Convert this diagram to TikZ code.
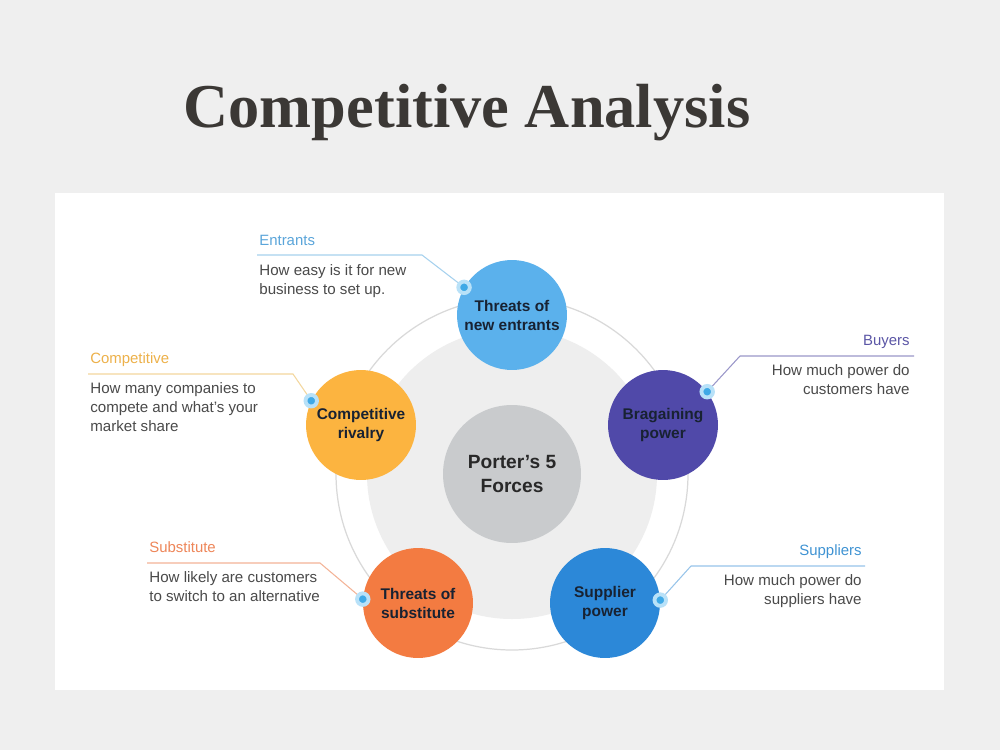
\documentclass[tikz,border=0pt]{standalone}
\usepackage{fontspec}
\setmainfont{Liberation Sans}
\newfontfamily\titlefont{Liberation Serif}
\usepackage{tikz}
\usetikzlibrary{positioning}
\definecolor{pagegray}{RGB}{239,239,239}
\definecolor{titlegray}{RGB}{59,56,53}
\definecolor{diskgray}{RGB}{238,238,238}
\definecolor{ringgray}{RGB}{217,217,217}
\definecolor{centergray}{RGB}{201,203,205}
\definecolor{centertext}{RGB}{40,40,40}
\definecolor{forcetext}{RGB}{24,34,50}
\definecolor{desctext}{RGB}{74,74,74}
\definecolor{entblue}{RGB}{91,177,236}
\definecolor{enthead}{RGB}{90,165,218}
\definecolor{entline}{RGB}{166,209,238}
\definecolor{compyellow}{RGB}{252,180,64}
\definecolor{comphead}{RGB}{237,177,74}
\definecolor{compline}{RGB}{243,215,158}
\definecolor{buypurple}{RGB}{80,73,169}
\definecolor{buyhead}{RGB}{91,86,166}
\definecolor{buyline}{RGB}{154,151,201}
\definecolor{suborange}{RGB}{243,123,65}
\definecolor{subhead}{RGB}{238,134,89}
\definecolor{subline}{RGB}{243,179,151}
\definecolor{supblue}{RGB}{44,136,216}
\definecolor{suphead}{RGB}{63,147,211}
\definecolor{supline}{RGB}{151,196,234}
\definecolor{dotblue}{RGB}{63,169,230}
\definecolor{dotglow}{RGB}{184,225,248}

\begin{document}
\begin{tikzpicture}[x=0.02cm, y=-0.02cm,
    glowdot/.style={circle, inner sep=0pt, minimum size=0.23cm, fill=dotblue, draw=dotglow, line width=2.2pt},
    link/.style={line width=0.6pt},
    heading/.style={inner sep=0pt, font=\fontsize{8.5}{10.8}\selectfont},
    desc/.style={inner sep=0pt, text=desctext, font=\fontsize{8.6}{10.8}\selectfont}]
  \useasboundingbox (0,0) rectangle (1000,750);
  \fill[pagegray] (0,0) rectangle (1000,750);
  \fill[white] (55,193) rectangle (944,690);
  \node[anchor=base, inner sep=0pt, text=titlegray, font=\titlefont\bfseries\fontsize{35.5}{40}\selectfont] (title) at (467,128) {Competitive Analysis};

  \fill[diskgray] (512,474) circle [radius=145];
  \draw[ringgray, line width=0.7pt] (512,474) circle [radius=176];

  \begin{scope}[every node/.style={circle, inner sep=0pt, minimum size=2.2cm, align=center, text=forcetext, font=\bfseries\fontsize{8.8}{10.8}\selectfont}]
    \node[fill=centergray, minimum size=2.76cm, text=centertext, font=\bfseries\fontsize{10.9}{14}\selectfont] (porter) at (512,474) {Porter's 5\\Forces};
    \node[fill=entblue] (entr) at (512,315) {Threats of\\new entrants};
    \node[fill=buypurple] (bargain) at (663,425) {Bragaining\\power};
    \node[fill=supblue] (supplier) at (605,603) {Supplier\\power};
    \node[fill=suborange] (subst) at (418,603) {Threats of\\substitute};
    \node[fill=compyellow] (rival) at (361,425) {Competitive\\rivalry};
  \end{scope}

  \coordinate (kE) at (422,255);
  \coordinate (uE) at (257,255);
  \coordinate (kC) at (293,374);
  \coordinate (uC) at (88,374);
  \coordinate (kB) at (740,356);
  \coordinate (uB) at (914,356);
  \coordinate (kS) at (320,563);
  \coordinate (uS) at (147,563);
  \coordinate (kP) at (691,566);
  \coordinate (uP) at (865,566);

  \draw[link, entline] (entr.150) -- (kE) -- (uE);
  \draw[link, compline] (rival.154) -- (kC) -- (uC);
  \draw[link, buyline] (bargain.37) -- (kB) -- (uB);
  \draw[link, subline] (subst.176) -- (kS) -- (uS);
  \draw[link, supline] (supplier.3) -- (kP) -- (uP);

  \node[glowdot] (dE) at (entr.150) {};
  \node[glowdot] (dC) at (rival.154) {};
  \node[glowdot] (dB) at (bargain.37) {};
  \node[glowdot] (dS) at (subst.176) {};
  \node[glowdot] (dP) at (supplier.3) {};

  \node[heading, anchor=base west, text=enthead] (hE) at (259,245) {Entrants};
  \node[desc, anchor=north west, align=left] (tE) at (259,264) {How easy is it for new\\business to set up.};

  \node[heading, anchor=base west, text=comphead] (hC) at (90,363) {Competitive};
  \node[desc, anchor=north west, align=left] (tC) at (90,382) {How many companies to\\compete and what's your\\market share};

  \node[heading, anchor=base east, text=buyhead] (hB) at (910,345) {Buyers};
  \node[desc, anchor=north east, align=right] (tB) at (910,364) {How much power do\\customers have};

  \node[heading, anchor=base west, text=subhead] (hS) at (149,552) {Substitute};
  \node[desc, anchor=north west, align=left] (tS) at (149,571) {How likely are customers\\to switch to an alternative};

  \node[heading, anchor=base east, text=suphead] (hP) at (862,555) {Suppliers};
  \node[desc, anchor=north east, align=right] (tP) at (862,574) {How much power do\\suppliers have};
\end{tikzpicture}
\end{document}
